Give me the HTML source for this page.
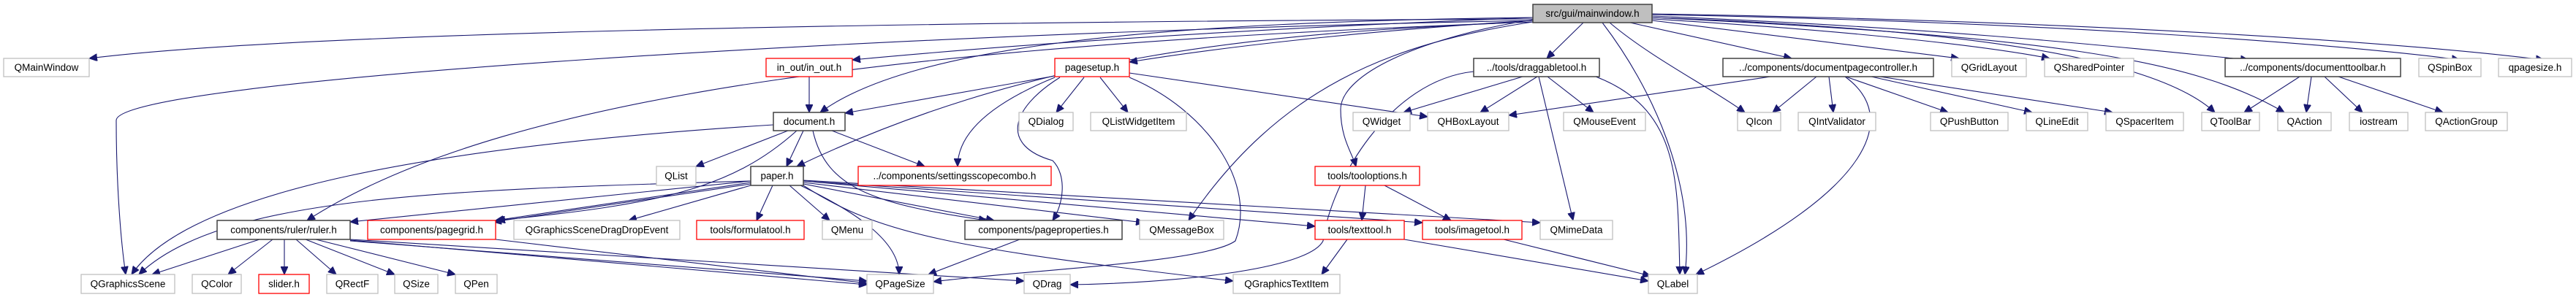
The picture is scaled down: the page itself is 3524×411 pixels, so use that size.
<!DOCTYPE html>
<html><head><meta charset="utf-8"><style>
html,body{margin:0;padding:0;background:#fff;}
svg{display:block;}
text{font-family:"Liberation Sans",sans-serif;font-size:13.5px;fill:#000;text-anchor:middle;dominant-baseline:central;}
.e{fill:none;stroke:#191970;stroke-width:1.1;marker-end:url(#a);}
.g{fill:#fff;stroke:#bfbfbf;stroke-width:1.3;}
.r{fill:#fff;stroke:#ff0000;stroke-width:1.3;}
.b{fill:#fff;stroke:#404040;stroke-width:1.5;}
</style></head><body>
<svg width="3524" height="411" viewBox="0 0 3524 411" xmlns="http://www.w3.org/2000/svg">
<defs><marker id="a" markerUnits="userSpaceOnUse" markerWidth="12" markerHeight="10" refX="11" refY="5" orient="auto"><path d="M0,0 L11,5 L0,10 z" fill="#191970" stroke="#191970"/></marker></defs>
<g>
<path class="e" d="M2097,26 C1200,30 400,45 122,80"/>
<path class="e" d="M2097,28 C1200,45 159,110 159,165 C159,250 165,330 172,376"/>
<path class="e" d="M2097,30 C1300,60 700,120 420,302"/>
<path class="e" d="M2097,24 C1700,40 1400,60 1166,82"/>
<path class="e" d="M2097,24 C1600,30 1250,60 1122,154"/>
<path class="e" d="M2097,28 C1900,40 1700,60 1545,85"/>
<path class="e" d="M2097,30 C1700,45 1400,80 1090,228"/>
<path class="e" d="M2097,30 C1900,60 1750,120 1626,302"/>
<path class="e" d="M2166,31 L2116,80"/>
<path class="e" d="M2097,27 C1950,50 1834,100 1834,150 C1834,190 1850,210 1855,228"/>
<path class="e" d="M2192,31 C2260,120 2320,250 2305,376"/>
<path class="e" d="M2202,31 C2260,80 2340,120 2387,154"/>
<path class="e" d="M2230,31 L2451,80"/>
<path class="e" d="M2260,28 L2680,80"/>
<path class="e" d="M2260,26 C2500,40 2700,60 2804,80"/>
<path class="e" d="M2260,24 C2700,40 2950,80 3030,154"/>
<path class="e" d="M2260,24 C2800,50 3000,80 3125,154"/>
<path class="e" d="M2260,22 C2700,40 2950,70 3076,82"/>
<path class="e" d="M2260,20 C2800,30 3200,60 3365,82"/>
<path class="e" d="M2260,19 C2900,30 3300,60 3480,82"/>
<path class="e" d="M1107,105 L1107,154"/>
<path class="e" d="M1443,104 L1156,155"/>
<path class="e" d="M1443,106 C1360,140 1310,180 1310,228"/>
<path class="e" d="M1450,106 C1380,150 1370,200 1440,220 C1460,240 1455,280 1440,302"/>
<path class="e" d="M1483,106 L1445,154"/>
<path class="e" d="M1505,106 L1543,154"/>
<path class="e" d="M1545,106 C1650,150 1720,250 1690,330 C1650,360 1400,370 1277,386"/>
<path class="e" d="M1545,100 L1953,160"/>
<path class="e" d="M1058,171 C600,200 260,260 180,376"/>
<path class="e" d="M1078,179 L952,228"/>
<path class="e" d="M1099,179 L1076,228"/>
<path class="e" d="M1138,179 L1265,228"/>
<path class="e" d="M1112,179 C1130,260 1200,280 1350,302"/>
<path class="e" d="M1090,179 C1000,260 900,280 680,302"/>
<path class="e" d="M1027,248 C600,260 300,270 190,376"/>
<path class="e" d="M1027,248 L479,304"/>
<path class="e" d="M1027,250 L678,302"/>
<path class="e" d="M1027,252 L675,304"/>
<path class="e" d="M1027,254 L860,302"/>
<path class="e" d="M1057,254 L1035,302"/>
<path class="e" d="M1080,254 L1135,302"/>
<path class="e" d="M1099,252 L1360,302"/>
<path class="e" d="M1099,250 L1565,305"/>
<path class="e" d="M1095,254 C1170,290 1230,330 1230,376"/>
<path class="e" d="M1099,254 C1200,320 1300,340 1687,385"/>
<path class="e" d="M1099,248 L1799,310"/>
<path class="e" d="M1099,248 L1946,305"/>
<path class="e" d="M1099,247 L2107,305"/>
<path class="e" d="M355,328 L208,376"/>
<path class="e" d="M373,328 L312,376"/>
<path class="e" d="M389,328 L389,376"/>
<path class="e" d="M405,328 L460,376"/>
<path class="e" d="M418,328 L540,376"/>
<path class="e" d="M432,328 L623,376"/>
<path class="e" d="M479,330 L1186,385"/>
<path class="e" d="M479,329 L1186,390"/>
<path class="e" d="M479,328 L1401,385"/>
<path class="e" d="M678,328 L1186,388"/>
<path class="e" d="M1395,328 L1270,376"/>
<path class="e" d="M2083,105 L1920,154"/>
<path class="e" d="M2103,105 L2025,154"/>
<path class="e" d="M2117,105 L2180,154"/>
<path class="e" d="M2105,105 L2152,302"/>
<path class="e" d="M2183,105 C2300,150 2295,250 2298,376"/>
<path class="e" d="M2016,98 C1900,110 1820,250 1810,330 C1790,370 1600,388 1464,390"/>
<path class="e" d="M2422,105 L2064,158"/>
<path class="e" d="M2485,105 L2425,154"/>
<path class="e" d="M2502,105 L2508,154"/>
<path class="e" d="M2524,105 C2600,160 2560,260 2320,376"/>
<path class="e" d="M2525,105 L2665,154"/>
<path class="e" d="M2560,105 L2780,154"/>
<path class="e" d="M2572,105 L2890,154"/>
<path class="e" d="M1868,254 L1863,302"/>
<path class="e" d="M1894,254 L1985,302"/>
<path class="e" d="M1843,328 L1808,376"/>
<path class="e" d="M1921,328 L2255,385"/>
<path class="e" d="M2057,328 L2258,378"/>
<path class="e" d="M3146,105 L3070,154"/>
<path class="e" d="M3162,105 L3155,154"/>
<path class="e" d="M3180,105 L3232,154"/>
<path class="e" d="M3199,105 L3342,154"/>
</g>
<g>
<rect x="2097" y="6" width="163" height="25" fill="#bfbfbf" stroke="#404040" stroke-width="1.5"/><text x="2178.5" y="18.5">src/gui/mainwindow.h</text>
<rect class="g" x="5" y="80" width="117" height="25"/><text x="63.5" y="92.5">QMainWindow</text>
<rect class="r" x="1048" y="80" width="118" height="25"/><text x="1107" y="92.5">in_out/in_out.h</text>
<rect class="r" x="1443" y="80" width="102" height="25"/><text x="1494" y="92.5">pagesetup.h</text>
<rect class="b" x="2016" y="80" width="172" height="25"/><text x="2102" y="92.5">../tools/draggabletool.h</text>
<rect class="b" x="2357" y="80" width="288" height="25"/><text x="2501" y="92.5">../components/documentpagecontroller.h</text>
<rect class="g" x="2670" y="80" width="102" height="25"/><text x="2721" y="92.5">QGridLayout</text>
<rect class="g" x="2797" y="80" width="122" height="25"/><text x="2858" y="92.5">QSharedPointer</text>
<rect class="b" x="3044" y="80" width="240" height="25"/><text x="3164" y="92.5">../components/documenttoolbar.h</text>
<rect class="g" x="3309" y="80" width="85" height="25"/><text x="3351.5" y="92.5">QSpinBox</text>
<rect class="g" x="3418" y="80" width="100" height="25"/><text x="3468" y="92.5">qpagesize.h</text>
<rect class="b" x="1058" y="154" width="98" height="25"/><text x="1107" y="166.5">document.h</text>
<rect class="g" x="1394" y="154" width="74" height="25"/><text x="1431" y="166.5">QDialog</text>
<rect class="g" x="1492" y="154" width="131" height="25"/><text x="1557.5" y="166.5">QListWidgetItem</text>
<rect class="g" x="1851" y="154" width="78" height="25"/><text x="1890" y="166.5">QWidget</text>
<rect class="g" x="1953" y="154" width="111" height="25"/><text x="2008.5" y="166.5">QHBoxLayout</text>
<rect class="g" x="2139" y="154" width="112" height="25"/><text x="2195" y="166.5">QMouseEvent</text>
<rect class="g" x="2377" y="154" width="59" height="25"/><text x="2406.5" y="166.5">QIcon</text>
<rect class="g" x="2460" y="154" width="106" height="25"/><text x="2513" y="166.5">QIntValidator</text>
<rect class="g" x="2641" y="154" width="106" height="25"/><text x="2694" y="166.5">QPushButton</text>
<rect class="g" x="2772" y="154" width="84" height="25"/><text x="2814" y="166.5">QLineEdit</text>
<rect class="g" x="2881" y="154" width="106" height="25"/><text x="2934" y="166.5">QSpacerItem</text>
<rect class="g" x="3012" y="154" width="79" height="25"/><text x="3051.5" y="166.5">QToolBar</text>
<rect class="g" x="3116" y="154" width="73" height="25"/><text x="3152.5" y="166.5">QAction</text>
<rect class="g" x="3214" y="154" width="80" height="25"/><text x="3254" y="166.5">iostream</text>
<rect class="g" x="3318" y="154" width="112" height="25"/><text x="3374" y="166.5">QActionGroup</text>
<rect class="g" x="898" y="228" width="54" height="26"/><text x="925" y="241">QList</text>
<rect class="b" x="1027" y="228" width="72" height="26"/><text x="1063" y="241">paper.h</text>
<rect class="r" x="1174" y="228" width="264" height="26"/><text x="1306" y="241">../components/settingsscopecombo.h</text>
<rect class="r" x="1799" y="228" width="143" height="26"/><text x="1870.5" y="241">tools/tooloptions.h</text>
<rect class="b" x="297" y="302" width="182" height="26"/><text x="388" y="315">components/ruler/ruler.h</text>
<rect class="r" x="503" y="302" width="175" height="26"/><text x="590.5" y="315">components/pagegrid.h</text>
<rect class="g" x="703" y="302" width="227" height="26"/><text x="816.5" y="315">QGraphicsSceneDragDropEvent</text>
<rect class="r" x="953" y="302" width="147" height="26"/><text x="1026.5" y="315">tools/formulatool.h</text>
<rect class="g" x="1125" y="302" width="68" height="26"/><text x="1159" y="315">QMenu</text>
<rect class="b" x="1320" y="302" width="215" height="26"/><text x="1427.5" y="315">components/pageproperties.h</text>
<rect class="g" x="1559" y="302" width="115" height="26"/><text x="1616.5" y="315">QMessageBox</text>
<rect class="r" x="1799" y="302" width="122" height="26"/><text x="1860" y="315">tools/texttool.h</text>
<rect class="r" x="1946" y="302" width="136" height="26"/><text x="2014" y="315">tools/imagetool.h</text>
<rect class="g" x="2107" y="302" width="99" height="26"/><text x="2156.5" y="315">QMimeData</text>
<rect class="g" x="111" y="376" width="128" height="26"/><text x="175" y="389">QGraphicsScene</text>
<rect class="g" x="263" y="376" width="67" height="26"/><text x="296.5" y="389">QColor</text>
<rect class="r" x="354" y="376" width="69" height="26"/><text x="388.5" y="389">slider.h</text>
<rect class="g" x="447" y="376" width="70" height="26"/><text x="482" y="389">QRectF</text>
<rect class="g" x="540" y="376" width="59" height="26"/><text x="569.5" y="389">QSize</text>
<rect class="g" x="623" y="376" width="57" height="26"/><text x="651.5" y="389">QPen</text>
<rect class="g" x="1186" y="376" width="91" height="26"/><text x="1231.5" y="389">QPageSize</text>
<rect class="g" x="1401" y="376" width="63" height="26"/><text x="1432.5" y="389">QDrag</text>
<rect class="g" x="1687" y="376" width="146" height="26"/><text x="1760" y="389">QGraphicsTextItem</text>
<rect class="g" x="2255" y="376" width="67" height="26"/><text x="2288.5" y="389">QLabel</text>
</g>
</svg>
</body></html>
